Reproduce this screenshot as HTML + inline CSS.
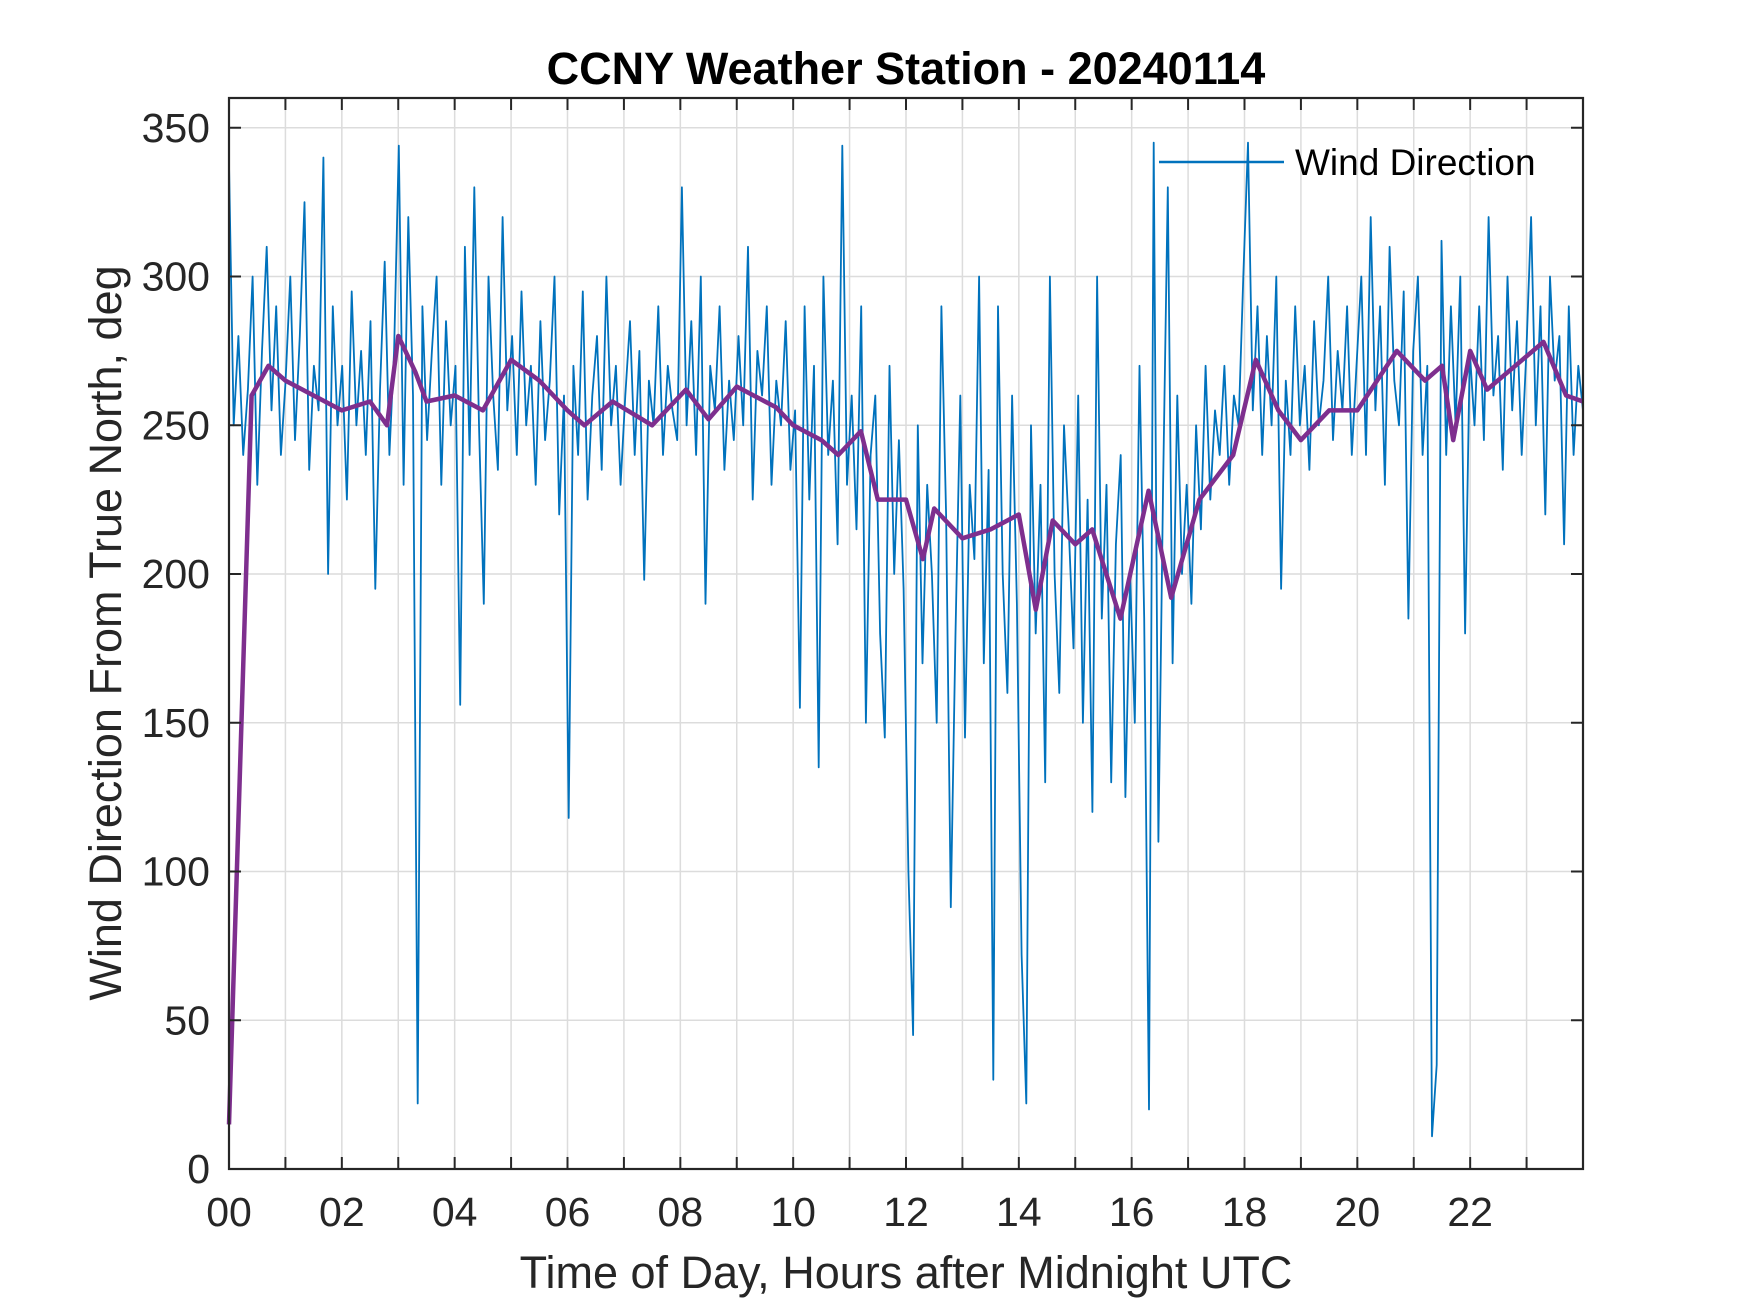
<!DOCTYPE html>
<html><head><meta charset="utf-8"><style>
html,body{margin:0;padding:0;background:#fff;}
svg{display:block;font-family:"Liberation Sans",Arial,sans-serif;}
</style></head><body>
<svg id="chart" width="1750" height="1313" viewBox="0 0 1750 1313" xmlns="http://www.w3.org/2000/svg">
<rect width="1750" height="1313" fill="#fff"/>
<text x="906" y="84" text-anchor="middle" font-size="45" font-weight="bold" fill="#000">CCNY Weather Station - 20240114</text>
<g id="grid"></g>
<g id="series"></g>
<g id="axes"></g>
<text transform="translate(121,633) rotate(-90)" text-anchor="middle" font-size="45" fill="#262626">Wind Direction From True North, deg</text>
<text x="906" y="1288" text-anchor="middle" font-size="45" fill="#262626">Time of Day, Hours after Midnight UTC</text>
<g>
<line x1="1159" y1="162" x2="1284" y2="162" stroke="#0072BD" stroke-width="2.5"/>
<text x="1295" y="175" font-size="37" fill="#000">Wind Direction</text>
</g>
</svg>
<script>
const blueValues = [
338,250,280,240,262,300,230,275,310,255,290,240,
265,300,245,280,325,235,270,255,340,200,290,250,
270,225,295,250,275,240,285,195,262,305,240,275,
344,230,320,260,22,290,245,275,300,230,285,250,
270,156,310,240,330,250,190,300,260,235,320,255,
280,240,295,250,270,230,285,245,265,300,220,260,
118,270,240,295,225,260,280,235,300,250,270,230,
260,285,240,275,198,265,250,290,240,270,255,245,
330,250,285,240,300,190,270,255,290,235,265,245,
280,250,310,225,275,260,290,230,265,250,285,235,
255,155,290,225,270,135,300,240,265,210,344,230,
260,215,290,150,240,260,180,145,270,200,245,195,
100,45,250,170,230,200,150,290,220,88,180,260,
145,230,205,300,170,235,30,290,200,160,260,190,
72,22,250,180,230,130,300,200,160,250,215,175,
260,150,225,120,300,185,230,130,210,240,125,200,
150,270,185,20,345,110,230,330,170,260,200,230,
190,250,215,270,225,255,240,270,230,260,250,300,
345,255,290,240,280,250,300,195,265,240,290,250,
270,235,285,250,265,300,245,275,255,290,240,270,
300,240,320,255,290,230,310,265,250,295,185,275,
300,240,270,11,35,312,240,290,250,300,180,275,
250,290,245,320,260,280,235,300,255,285,240,275,
320,250,290,220,300,265,280,210,290,240,270,255];
const avgHours = [0,0.4,0.7,1,1.5,2,2.5,2.8,3,3.3,3.5,4,4.5,5,5.5,6,6.3,6.8,7.5,8.1,8.5,9,9.7,10,10.5,10.8,11.2,11.5,12,12.3,12.5,13,13.5,14,14.3,14.6,15,15.3,15.8,16.3,16.7,17.2,17.8,18.2,18.6,19,19.5,20,20.7,21.2,21.5,21.7,22,22.3,22.8,23.3,23.7,24];
const avgValues = [15,260,270,265,260,255,258,250,280,268,258,260,255,272,265,255,250,258,250,262,252,263,256,250,245,240,248,225,225,205,222,212,215,220,188,218,210,215,185,228,192,225,240,272,255,245,255,255,275,265,270,245,275,262,270,278,260,258];
const xTicks = [0,2,4,6,8,10,12,14,16,18,20,22];
const xTickLabels = ["00","02","04","06","08","10","12","14","16","18","20","22"];
const yTicks = [0,50,100,150,200,250,300,350];

const X0=229,X1=1583,Y0=1169,Y1=98;
const xs=h=>X0+(h/24)*(X1-X0);
const ys=v=>Y0-(v/360)*(Y0-Y1);
const NS="http://www.w3.org/2000/svg";
function mk(tag,parent,attrs){const e=document.createElementNS(NS,tag);for(const k in attrs)e.setAttribute(k,attrs[k]);parent.appendChild(e);return e;}
const grid=document.getElementById('grid'),axes=document.getElementById('axes'),series=document.getElementById('series');

for(let h=1;h<24;h++){const l=mk('line',grid,{x1:xs(h),x2:xs(h),y1:Y1,y2:Y0,stroke:'#dcdcdc','stroke-width':1.5});

}
yTicks.forEach(v=>{if(v===0)return;const l=mk('line',grid,{x1:X0,x2:X1,y1:ys(v),y2:ys(v),stroke:'#dcdcdc','stroke-width':1.5});

});

const n=blueValues.length;
let d=blueValues.map((v,i)=>(i?'L':'M')+xs(i*24/(n-1)).toFixed(1)+','+ys(v).toFixed(1)).join('');
const bl=mk('path',series,{d:d,fill:'none',stroke:'#0072BD','stroke-width':1.8,'stroke-linejoin':'round'});


let d2=avgHours.map((h,i)=>(i?'L':'M')+xs(h).toFixed(1)+','+ys(avgValues[i]).toFixed(1)).join('');
const pl=mk('path',series,{d:d2,fill:'none',stroke:'#7E2F8E','stroke-width':4.5,'stroke-linejoin':'round'});



const box=mk('rect',axes,{x:X0,y:Y1,width:X1-X0,height:Y0-Y1,fill:'none',stroke:'#262626','stroke-width':2.2});


for(let h=1;h<24;h++){mk('line',axes,{x1:xs(h),x2:xs(h),y1:Y0,y2:Y0-12,stroke:'#262626','stroke-width':2});mk('line',axes,{x1:xs(h),x2:xs(h),y1:Y1,y2:Y1+12,stroke:'#262626','stroke-width':2});}
yTicks.forEach(v=>{mk('line',axes,{x1:X0,x2:X0+12,y1:ys(v),y2:ys(v),stroke:'#262626','stroke-width':2});mk('line',axes,{x1:X1,x2:X1-12,y1:ys(v),y2:ys(v),stroke:'#262626','stroke-width':2});
const t=mk('text',axes,{x:X0-19,y:ys(v)+14,'text-anchor':'end','font-size':41,fill:'#262626'});t.textContent=v;

});
xTicks.forEach((h,i)=>{const t=mk('text',axes,{x:xs(h),y:1226,'text-anchor':'middle','font-size':41,fill:'#262626'});t.textContent=xTickLabels[i];

});
</script>
</body></html>
